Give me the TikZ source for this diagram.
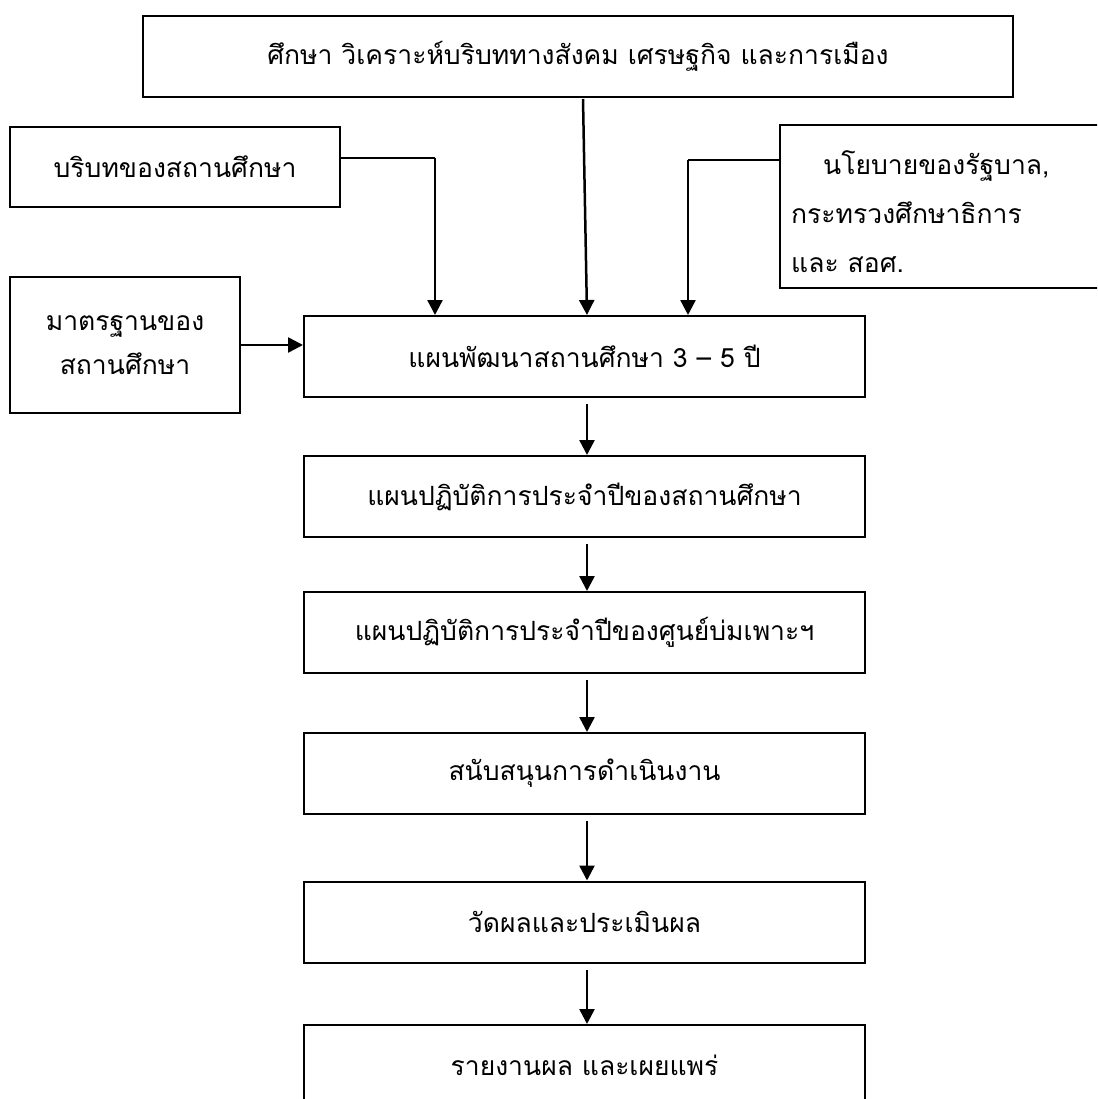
\documentclass[tikz,border=0pt]{standalone}
\usepackage{fontspec}
\newfontfamily\thaifont[Script=Thai]{Loma}
\usetikzlibrary{arrows.meta}
\begin{document}
\begin{tikzpicture}[x=1pt,y=-1pt,
  every node/.style={font=\thaifont\fontsize{26.5}{32}\selectfont, inner sep=0pt},
  box/.style={draw=black, line width=2pt, rectangle, fill=white},
  mainbox/.style={box, minimum width=561pt, minimum height=81pt},
  arr/.style={line width=2.5pt, -{Triangle[length=15pt,width=15pt]}},
  thin/.style={line width=1.2pt}]
\useasboundingbox (0,0) rectangle (1097,1099);
\clip (0,0) rectangle (1097,1099);
% top box
\node[box, minimum width=870pt, minimum height=81pt] (top) at (578,56.5) {ศึกษา วิเคราะห์บริบททางสังคม เศรษฐกิจ และการเมือง};
% context box
\node[box, minimum width=330pt, minimum height=80pt] (bor) at (175,167) {บริบทของสถานศึกษา};
% standard box
\node[box, minimum width=230pt, minimum height=136pt, align=center] (std) at (125,345) {มาตรฐานของ\\[12pt]สถานศึกษา};
% policy box
\node[box, minimum width=330pt, minimum height=163pt] (pol) at (945,206.5) {};
\node[anchor=north west, align=left] (poltxt) at (791,150) {\hspace*{32pt}นโยบายของรัฐบาล,\\[17pt]กระทรวงศึกษาธิการ\\[17pt]และ สอศ.};
% main column
\node[mainbox] (m1) at (584.5,356.5) {แผนพัฒนาสถานศึกษา 3 – 5 ปี};
\node[mainbox] (m2) at (584.5,496.5) {แผนปฏิบัติการประจำปีของสถานศึกษา};
\node[mainbox] (m3) at (584.5,632.5) {แผนปฏิบัติการประจำปีของศูนย์บ่มเพาะฯ};
\node[mainbox] (m4) at (584.5,773.5) {สนับสนุนการดำเนินงาน};
\node[mainbox] (m5) at (584.5,922) {วัดผลและประเมินผล};
\node[mainbox] (m6) at (584.5,1065.5) {รายงานผล และเผยแพร่};
% connectors into m1
\coordinate (c1) at (435,158);
\coordinate (c2) at (688,160);
\draw[thin] (bor.east |- c1) -- (c1);
\draw[arr] (c1) -- (c1 |- m1.north);
\draw[thin] (pol.west |- c2) -- (c2);
\draw[arr] (c2) -- (c2 |- m1.north);
\draw[arr] ([xshift=5pt,yshift=-1pt]top.south) -- ([xshift=2.5pt]m1.north);
\draw[arr] (std.east) -- (std.east -| m1.west);
% main chain
\foreach \a/\b in {m1/m2,m2/m3,m3/m4,m4/m5,m5/m6}
  \draw[arr] ([xshift=2.5pt,yshift=-6pt]\a.south) -- ([xshift=2.5pt]\b.north);
\end{tikzpicture}
\end{document}
